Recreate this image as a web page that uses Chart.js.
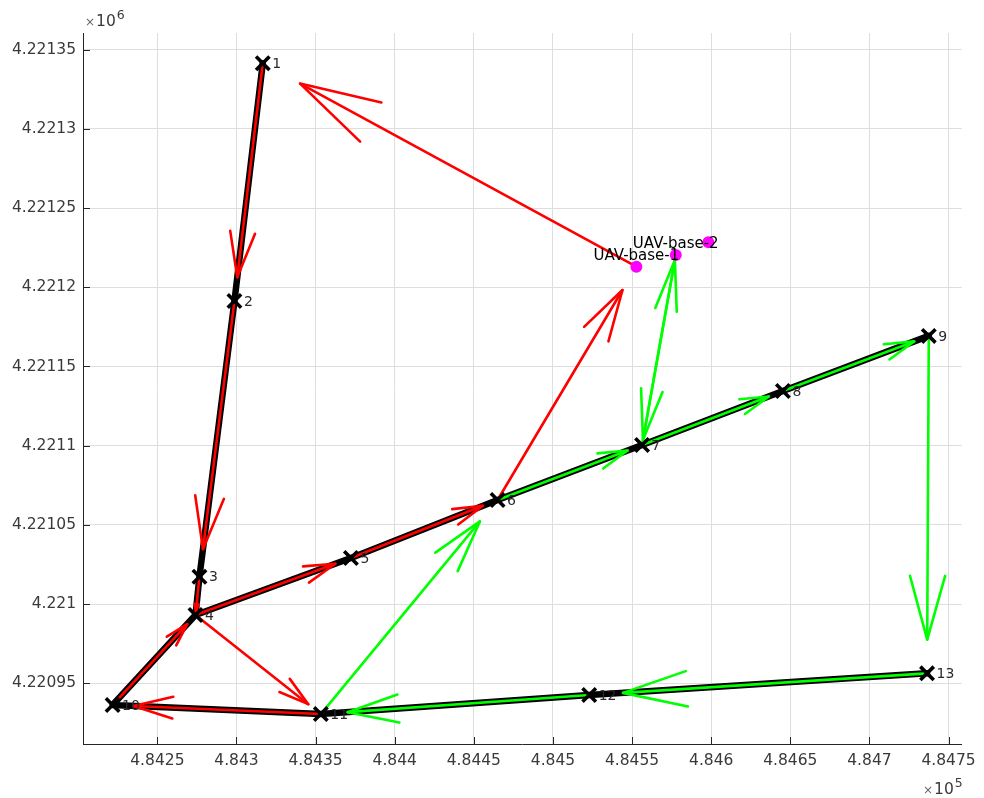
<!DOCTYPE html>
<html>
<head>
<meta charset="utf-8">
<script src="https://cdn.jsdelivr.net/npm/chart.js@4.4.1/dist/chart.umd.min.js"></script>
<style>
  html, body { margin: 0; padding: 0; background: #ffffff; }
  #wrap { width: 984px; height: 798px; position: relative; }
</style>
</head>
<body>
<div id="wrap"><canvas id="c" width="984" height="798"></canvas></div>
<script>
// Waypoints (UTM easting / northing, metres)
const waypointIds = ['1', '2', '3', '4', '5', '6', '7', '8', '9', '10', '11', '12', '13'];
const waypointX = [484316.6, 484298.7, 484276.6, 484274.1, 484372.3, 484465.0, 484556.3,
                   484645.3, 484737.5, 484221.7, 484353.3, 484522.9, 484736.4];
const waypointY = [4221341.4, 4221191.3, 4221017.3, 4220993.1, 4221029.1, 4221065.7, 4221100.4,
                   4221134.5, 4221169.3, 4220936.3, 4220930.6, 4220942.6, 4220956.3];

// UAV bases
const baseIds = ['B1', 'B2', 'B3'];
const baseNames = ['UAV-base-1', 'UAV-base-2', ''];
const baseX = [484552.7, 484577.6, 484598.2];
const baseY = [4221213.0, 4221220.4, 4221228.4];

// Road network drawn underneath the routes
const trackA = ['1', '2', '3', '4', '5', '6', '7', '8', '9'];
const trackB = ['13', '12', '11', '10', '4'];

// Route legs flown by each UAV (from, to)
const redLegs = [['1', '2'], ['2', '3'], ['3', '4'], ['4', '5'], ['5', '6'], ['6', 'B1'],
                 ['B1', '1'], ['4', '11'], ['11', '10'], ['10', '4']];
const greenLegs = [['11', '6'], ['6', '7'], ['7', '8'], ['8', '9'], ['9', '13'], ['13', '12'],
                   ['12', '11'], ['7', 'B2'], ['B2', '7']];
// quiver scale per leg (default 0.9) and head length fraction (default 0.21)
const legScale = { '7>B2': 0.974, 'B2>7': 0.974 };
const legHead = { '7>B2': 0.27, 'B2>7': 0.27 };

// Axis ticks
const xTickValues = [484250, 484300, 484350, 484400, 484450, 484500, 484550, 484600, 484650, 484700, 484750];
const xTickLabels = ['4.8425', '4.843', '4.8435', '4.844', '4.8445', '4.845', '4.8455', '4.846', '4.8465', '4.847', '4.8475'];
const yTickValues = [4220950, 4221000, 4221050, 4221100, 4221150, 4221200, 4221250, 4221300, 4221350];
const yTickLabels = ['4.22095', '4.221', '4.22105', '4.2211', '4.22115', '4.2212', '4.22125', '4.2213', '4.22135'];

const xLimits = [484203.0, 484758.3];
const yLimits = [4220911.7, 4221360.5];

// ---- build datasets ----
const pos = {};
waypointIds.forEach((id, i) => { pos[id] = { x: waypointX[i], y: waypointY[i] }; });
baseIds.forEach((id, i) => { pos[id] = { x: baseX[i], y: baseY[i] }; });

const datasets = [];

[trackA, trackB].forEach(track => {
  datasets.push({
    data: track.map(id => pos[id]),
    showLine: true, borderColor: '#000000', borderWidth: 6.5,
    pointRadius: 0, borderJoinStyle: 'round', borderCapStyle: 'round', order: 10
  });
});

function addArrow(leg, color) {
  const key = leg[0] + '>' + leg[1];
  const s = legScale[key] || 0.9;
  const hl = legHead[key] || 0.21;
  const hw = 0.058;
  const a = pos[leg[0]], b = pos[leg[1]];
  const dx = (b.x - a.x) * s, dy = (b.y - a.y) * s;
  const tip = { x: a.x + dx, y: a.y + dy };
  const barb1 = { x: tip.x - hl * dx - hw * dy, y: tip.y - hl * dy + hw * dx };
  const barb2 = { x: tip.x - hl * dx + hw * dy, y: tip.y - hl * dy - hw * dx };
  const common = { showLine: true, borderColor: color, borderWidth: 2.6, pointRadius: 0,
                   borderJoinStyle: 'round', borderCapStyle: 'round', order: 5 };
  datasets.push(Object.assign({ data: [a, tip] }, common));
  datasets.push(Object.assign({ data: [barb1, tip, barb2] }, common));
}
redLegs.forEach(l => addArrow(l, '#ff0000'));
greenLegs.forEach(l => addArrow(l, '#00ff00'));

datasets.push({
  data: waypointIds.map(id => pos[id]),
  pointStyle: 'crossRot', pointRadius: 9.5, borderWidth: 3.6,
  borderColor: '#000000', backgroundColor: '#000000', showLine: false, order: 3
});
datasets.push({
  data: baseIds.map(id => pos[id]),
  pointStyle: 'circle', pointRadius: 6, borderWidth: 0,
  backgroundColor: '#ff00ff', borderColor: '#ff00ff', showLine: false, order: 1
});

const axisColor = '#262626';
const labelColor = '#3a3a3a';
const fontFamily = '"DejaVu Sans", sans-serif';

// inward tick marks, exponent notes and text annotations
const decorations = {
  id: 'decorations',
  beforeDatasetsDraw(chart) {
    const { ctx, chartArea: ca, scales } = chart;
    ctx.save();
    ctx.strokeStyle = axisColor;
    ctx.lineWidth = 1;
    ctx.beginPath();
    xTickValues.forEach(v => {
      const px = Math.round(scales.x.getPixelForValue(v)) + 0.5;
      ctx.moveTo(px, ca.bottom); ctx.lineTo(px, ca.bottom - 7);
    });
    yTickValues.forEach(v => {
      const py = Math.round(scales.y.getPixelForValue(v)) + 0.5;
      ctx.moveTo(ca.left, py); ctx.lineTo(ca.left + 7, py);
    });
    ctx.stroke();
    ctx.restore();
  },
  afterDatasetsDraw(chart) {
    const { ctx, chartArea: ca, scales } = chart;
    ctx.save();
    // waypoint numbers
    ctx.font = '14px ' + fontFamily;
    ctx.fillStyle = '#2a2a2a';
    ctx.textAlign = 'left';
    ctx.textBaseline = 'middle';
    waypointIds.forEach((id, i) => {
      const px = scales.x.getPixelForValue(waypointX[i]);
      const py = scales.y.getPixelForValue(waypointY[i]);
      ctx.fillText(id, px + 9.5, py + 1);
    });
    // base names
    ctx.font = '15px ' + fontFamily;
    ctx.fillStyle = '#000000';
    ctx.textAlign = 'center';
    baseNames.forEach((name, i) => {
      if (!name) return;
      const px = scales.x.getPixelForValue(baseX[i]);
      const py = scales.y.getPixelForValue(baseY[i]);
      ctx.fillText(name, px, py - 11);
    });
    // exponent notes
    function exponent(xLeft, yMid, exp, alignRight) {
      ctx.textBaseline = 'middle';
      ctx.textAlign = 'left';
      ctx.font = '12px ' + fontFamily;
      const wx = ctx.measureText('\u00d7').width;
      ctx.font = '15.5px ' + fontFamily;
      const w10 = ctx.measureText('10').width;
      ctx.font = '12.5px ' + fontFamily;
      const we = ctx.measureText(exp).width;
      let x = alignRight ? xLeft - (wx + 1 + w10 + 1 + we) : xLeft;
      ctx.fillStyle = '#666666';
      ctx.font = '12px ' + fontFamily;
      ctx.fillText('\u00d7', x, yMid + 1);
      x += wx + 1;
      ctx.fillStyle = labelColor;
      ctx.font = '15.5px ' + fontFamily;
      ctx.fillText('10', x, yMid);
      x += w10 + 1;
      ctx.font = '12.5px ' + fontFamily;
      ctx.fillText(exp, x, yMid - 6);
    }
    exponent(ca.left + 2, 22, '6', false);
    exponent(ca.right + 1, 790, '5', true);
    ctx.restore();
  }
};

new Chart(document.getElementById('c'), {
  type: 'scatter',
  data: { datasets },
  options: {
    responsive: false,
    animation: false,
    events: [],
    layout: { padding: { top: 33, right: 21, left: 0, bottom: 0 } },
    plugins: { legend: { display: false }, tooltip: { enabled: false } },
    scales: {
      x: {
        type: 'linear', min: xLimits[0], max: xLimits[1],
        afterBuildTicks(scale) { scale.ticks = xTickValues.map(v => ({ value: v })); },
        afterFit(scale) { scale.height = 54; },
        ticks: {
          padding: 8, color: labelColor, font: { family: fontFamily, size: 15.5 },
          maxRotation: 0, autoSkip: false,
          callback: (v) => { const i = xTickValues.indexOf(v); return i >= 0 ? xTickLabels[i] : ''; }
        },
        grid: { color: '#dedede', lineWidth: 1, drawTicks: false },
        border: { display: true, color: axisColor, width: 1 }
      },
      y: {
        type: 'linear', min: yLimits[0], max: yLimits[1],
        afterBuildTicks(scale) { scale.ticks = yTickValues.map(v => ({ value: v })); },
        afterFit(scale) { scale.width = 83; },
        ticks: {
          padding: 7, color: labelColor, font: { family: fontFamily, size: 15.5 },
          autoSkip: false,
          callback: (v) => { const i = yTickValues.indexOf(v); return i >= 0 ? yTickLabels[i] : ''; }
        },
        grid: { color: '#dedede', lineWidth: 1, drawTicks: false },
        border: { display: true, color: axisColor, width: 1 }
      }
    }
  },
  plugins: [decorations]
});
</script>
</body>
</html>
